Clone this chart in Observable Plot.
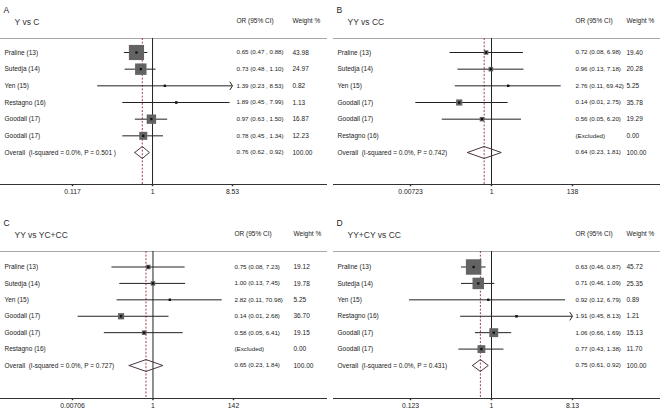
<!DOCTYPE html>
<html><head><meta charset="utf-8">
<script src="https://cdn.jsdelivr.net/npm/d3@7"></script>
<script src="https://cdn.jsdelivr.net/npm/@observablehq/plot@0.6"></script>
<style>
body{margin:0;background:#fff;}
#grid{display:grid;grid-template-columns:333px 333px;grid-template-rows:206px 206px;width:666px;height:412px;}
#grid svg{display:block;background:#fff;}
</style></head><body><div id="grid"></div>
<script>
// ---- data ----
const letters = ["A", "B", "C", "D"];
const titles = ["Y vs C", "YY vs CC", "YY vs YC+CC", "YY+CY vs CC"];

const studiesA = ["Praline (13)", "Sutedja (14)", "Yen (15)", "Restagno (16)", "Goodall (17)", "Goodall (17)"];
const orA = [0.65, 0.73, 1.39, 1.89, 0.97, 0.78];
const loA = [0.47, 0.48, 0.23, 0.45, 0.63, 0.45];
const hiA = [0.88, 1.10, 8.53, 7.99, 1.50, 1.34];
const wA = [43.98, 24.97, 0.82, 1.13, 16.87, 12.23];
const overallA = [0.76, 0.62, 0.92];
const hetA = "I-squared = 0.0%, P = 0.501 )";
const ticksA = [0.117, 1, 8.53];
const tickLabelsA = ["0.117", "1", "8.53"];

const studiesB = ["Praline (13)", "Sutedja (14)", "Yen (15)", "Goodall (17)", "Goodall (17)", "Restagno (16)"];
const orB = [0.72, 0.96, 2.76, 0.14, 0.56, null];
const loB = [0.08, 0.13, 0.11, 0.01, 0.05, null];
const hiB = [6.98, 7.18, 69.42, 2.75, 6.20, null];
const wB = [19.40, 20.28, 5.25, 35.78, 19.29, 0.00];
const overallB = [0.64, 0.23, 1.81];
const hetB = "I-squared = 0.0%, P = 0.742)";
const ticksB = [0.00723, 1, 138];
const tickLabelsB = ["0.00723", "1", "138"];

const studiesC = ["Praline (13)", "Sutedja (14)", "Yen (15)", "Goodall (17)", "Goodall (17)", "Restagno (16)"];
const orC = [0.75, 1.00, 2.82, 0.14, 0.58, null];
const loC = [0.08, 0.13, 0.11, 0.01, 0.05, null];
const hiC = [7.23, 7.45, 70.98, 2.68, 6.41, null];
const wC = [19.12, 19.78, 5.25, 36.70, 19.15, 0.00];
const overallC = [0.65, 0.23, 1.84];
const hetC = "I-squared = 0.0%, P = 0.727)";
const ticksC = [0.00706, 1, 142];
const tickLabelsC = ["0.00706", "1", "142"];

const studiesD = ["Praline (13)", "Sutedja (14)", "Yen (15)", "Restagno (16)", "Goodall (17)", "Goodall (17)"];
const orD = [0.63, 0.71, 0.92, 1.91, 1.06, 0.77];
const loD = [0.46, 0.46, 0.12, 0.45, 0.66, 0.43];
const hiD = [0.87, 1.09, 6.79, 8.13, 1.69, 1.38];
const wD = [45.72, 25.35, 0.89, 1.21, 15.13, 11.70];
const overallD = [0.75, 0.61, 0.92];
const hetD = "I-squared = 0.0%, P = 0.431)";
const ticksD = [0.123, 1, 8.13];
const tickLabelsD = ["0.123", "1", "8.13"];

// ---- layout / style (not data) ----
const layouts = [
  {top: 38, bottom: 22, yRange: [52, 152], xRange: [72, 232], orDx: 236, wDx: 292, rMax: 12.9, sep: " , "},
  {top: 38, bottom: 22, yRange: [52, 152], xRange: [77, 239], orDx: 242, wDx: 293, rMax: 5.8, sep: ", "},
  {top: 45, bottom: 14, yRange: [60.5, 159], xRange: [72, 233], orDx: 234, wDx: 293, rMax: 5.8, sep: ", "},
  {top: 45, bottom: 14, yRange: [60.5, 159], xRange: [77, 239], orDx: 242, wDx: 293, rMax: 12.9, sep: ", "}
];

const chevron = {
  draw(context, size) {
    const r = Math.sqrt(size / Math.PI);
    context.moveTo(-r * 0.75, -r * 1.15);
    context.lineTo(0, 0);
    context.lineTo(-r * 0.75, r * 1.15);
  }
};
const tickSym = {
  draw(context, size) {
    const r = Math.sqrt(size / Math.PI);
    context.moveTo(0, 0);
    context.lineTo(0, r);
  }
};

function panel(i, studies, or, lo, hi, w, overall, het, ticks, tickLabels) {
  const L = layouts[i];
  const f = (v) => v.toFixed(2);
  const rows = studies.map((name, k) => ({
    name, row: k, est: or[k], lo: lo[k], hi: hi[k], w: w[k],
    orText: or[k] == null ? "(Excluded)" : `${f(or[k])} (${f(lo[k])}${L.sep}${f(hi[k])})`,
    wText: f(w[k])
  }));
  const nRow = rows.length;
  const ov = {
    name: `Overall  (${het}`, row: nRow, est: overall[0], lo: overall[1], hi: overall[2],
    orText: `${f(overall[0])} (${f(overall[1])}${L.sep}${f(overall[2])})`, wText: "100.00"
  };
  const all = rows.concat([ov]);
  const valid = rows.filter(d => d.est != null);
  const tMax = ticks[ticks.length - 1];
  const arrows = valid.filter(d => d.hi >= tMax);
  const dh = 0.36;
  const diamond = [
    {x: ov.lo, y: nRow}, {x: ov.est, y: nRow - dh}, {x: ov.hi, y: nRow},
    {x: ov.est, y: nRow + dh}, {x: ov.lo, y: nRow}
  ];
  const tickData = ticks.map((v, k) => ({v, label: tickLabels[k]}));
  return Plot.plot({
    width: 333, height: 206,
    marginTop: L.top, marginBottom: L.bottom, marginLeft: 0, marginRight: 7,
    style: {fontFamily: "'Liberation Sans', Arial, sans-serif", fontSize: "6.5px", color: "#222", background: "#fff"},
    x: {type: "log", domain: [ticks[0], tMax], range: L.xRange, axis: null},
    y: {type: "linear", domain: [0, nRow], range: L.yRange, axis: null},
    r: {type: "sqrt", domain: [0, 100], range: [0, L.rMax]},
    marks: [
      Plot.frame({anchor: "top", stroke: "#a8a8a8"}),
      Plot.frame({anchor: "bottom", stroke: "#333"}),
      Plot.ruleX([1], {stroke: "#222", strokeWidth: 1}),
      Plot.ruleX([ov.est], {stroke: "#a0404a", strokeDasharray: "2,1.6", strokeWidth: 1}),
      Plot.dot(tickData, {x: "v", frameAnchor: "bottom", symbol: tickSym, r: 1.7, stroke: "#333", fill: "none"}),
      Plot.text(tickData, {x: "v", text: "label", frameAnchor: "bottom", dy: 9, fontSize: 6.8, fill: "#222"}),
      Plot.ruleY(valid, {y: "row", x1: "lo", x2: "hi", stroke: "#222", strokeWidth: 1}),
      Plot.dot(valid, {x: "est", y: "row", r: "w", symbol: "square", fill: "#636363", stroke: null}),
      Plot.dot(valid, {x: "est", y: "row", r: 1.3, symbol: "square", fill: "#111", stroke: null}),
      Plot.dot(arrows, {x: "hi", y: "row", r: 3.6, symbol: chevron, fill: "none", stroke: "#222", strokeWidth: 1}),
      Plot.line(diamond, {x: "x", y: "y", stroke: "#4a3545", strokeWidth: 1}),
      Plot.text(all, {y: "row", text: "name", frameAnchor: "left", dx: 4, textAnchor: "start", fill: "#222"}),
      Plot.text(all, {y: "row", text: "orText", frameAnchor: "left", dx: L.orDx, textAnchor: "start", fontSize: 6.2, fill: "#222"}),
      Plot.text(all, {y: "row", text: "wText", frameAnchor: "left", dx: L.wDx, textAnchor: "start", fill: "#222"}),
      Plot.text([letters[i]], {text: d => d, frameAnchor: "top-left", dx: 3, dy: -32, textAnchor: "start", fontSize: 8.5, fill: "#222"}),
      Plot.text([titles[i]], {text: d => d, frameAnchor: "top-left", dx: 14, dy: -20, textAnchor: "start", fontSize: 8.5, fill: "#333"}),
      Plot.text(["OR (95% CI)"], {text: d => d, frameAnchor: "top-left", dx: L.orDx, dy: -20, textAnchor: "start", fill: "#222"}),
      Plot.text(["Weight %"], {text: d => d, frameAnchor: "top-left", dx: L.wDx, dy: -20, textAnchor: "start", fill: "#222"})
    ]
  });
}

const grid = document.getElementById("grid");
grid.append(panel(0, studiesA, orA, loA, hiA, wA, overallA, hetA, ticksA, tickLabelsA));
grid.append(panel(1, studiesB, orB, loB, hiB, wB, overallB, hetB, ticksB, tickLabelsB));
grid.append(panel(2, studiesC, orC, loC, hiC, wC, overallC, hetC, ticksC, tickLabelsC));
grid.append(panel(3, studiesD, orD, loD, hiD, wD, overallD, hetD, ticksD, tickLabelsD));
</script></body></html>
